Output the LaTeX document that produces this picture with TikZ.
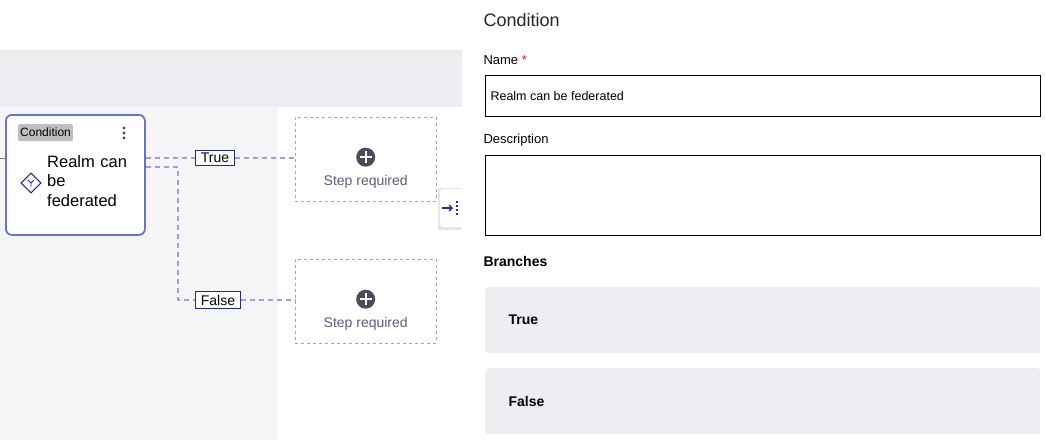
\documentclass[tikz,border=0pt]{standalone}
\usepackage{fontspec}
\setmainfont{Liberation Sans}
\setsansfont{Liberation Sans}
\usetikzlibrary{positioning,calc,arrows.meta}
\definecolor{edgeblue}{HTML}{9C9FD8}
\definecolor{nodeblue}{HTML}{6A74C4}
\definecolor{navy}{HTML}{1F2A8A}
\definecolor{bandgray}{HTML}{EEEEF2}
\definecolor{canvasgray}{HTML}{F5F5F8}
\definecolor{fieldgray}{HTML}{EDEEF1}
\definecolor{textgray}{HTML}{5A5E7A}
\definecolor{darkdot}{HTML}{4A4C5E}
\newcommand{\fs}[1]{\fontsize{#1pt}{\dimexpr#1pt*6/5\relax}\selectfont}
\begin{document}
\begin{tikzpicture}[x=1pt,y=-1pt,font=\sffamily]
\tikzset{
branch/.style  = {draw=edgeblue, line width=1.4pt, dash pattern=on 5pt off 4pt},
label/.style   = {draw=navy, fill=white, inner xsep=5pt, inner ysep=3pt, font=\fs{14}, line width=0.9pt},
stepbox/.style = {draw=edgeblue, dashed, fill=white, minimum width=141pt, minimum height=84pt, anchor=north west},
field/.style   = {draw=black, fill=white, anchor=north west, minimum width=555pt, line width=0.7pt},
branchbox/.style = {fill=fieldgray, rounded corners=3pt, anchor=north west, minimum width=555pt, minimum height=66pt},
}
    % Backgrounds
    \useasboundingbox (0,0) rectangle (1045,440);
    \fill[white] (0,0) rectangle (1045,440);
    \fill[bandgray] (0,50) rectangle (462,107);
    \fill[canvasgray] (0,107) rectangle (278,440);
    \fill[white] (278,107) rectangle (455,440);
    \fill[black!8] (0,50) rectangle (462,53);

    % Condition node
    \node [draw=nodeblue, line width=1.8pt, rounded corners=6pt, fill=white, minimum width=139pt, minimum height=120pt, anchor=north west] (cond) at (5,114) {};
    \node [fill=black!25, rounded corners=1pt, font=\fs{12}, inner xsep=2pt, inner ysep=4pt, anchor=north west] (cond_tag) at (18,124) {Condition};
    \node [align=left, anchor=north west, font=\fs{16.5}, inner sep=0pt, text width=90pt] (cond_name) at (47,155) {Realm can\\be\\federated};
    \node [draw=navy, line width=1pt, rotate=45, minimum size=14pt, inner sep=0pt] (cond_icon) at (31,183) {};
    \draw[navy, line width=0.8pt] ($(cond_icon)+(0,4)$) -- ($(cond_icon)+(0,0)$) -- ($(cond_icon)+(-3,-3)$) ($(cond_icon)$) -- ($(cond_icon)+(3,-3)$);
    \foreach \d in {0,5,10} \fill[darkdot] (124,{128+\d}) circle (1.6pt);
    \coordinate (cond_in) at (0,158);
    \draw[gray,line width=1pt] (cond_in) -- (5,158);

    % Step nodes
    \node [stepbox] (step_true) at (295,117) {};
    \node [stepbox] (step_false) at (295,259) {};
    \foreach \s in {step_true,step_false}{
      \fill[darkdot] ($(\s.center)+(0,-2)$) circle (9.5pt);
      \draw[white,line width=1.8pt] ($(\s.center)+(-6,-2)$) -- ++(12,0) ($(\s.center)+(0,-8)$) -- ++(0,12);
      \node [text=textgray, font=\fs{14}] at ($(\s.center)+(0,23)$) {Step required};
    }

    % Branch edges
    \node [label] (lbl_true) at (215,158) {True};
    \node [label] (lbl_false) at (218,300) {False};
    \draw [branch] (cond.east |- 0,158) -- (lbl_true);
    \draw [branch] (lbl_true) -- (step_true.west |- lbl_true);
    \draw [branch] (cond.east |- 0,167) -- (178,167) -- (178,300) -- (lbl_false);
    \draw [branch] (lbl_false) -- (step_false.west |- lbl_false);

    % Panel toggle
    \fill[black!10] (438,188) rectangle (464,230);
    \node [fill=white, rounded corners=3pt, minimum width=24pt, minimum height=38pt] (toggle) at (452,208) {};
    \draw[navy, line width=1.4pt, -{Straight Barb[length=3pt]}] ($(toggle)+(-10,0)$) -- ($(toggle)+(1,0)$);
    \foreach \d in {-6,-2,2,6} \fill[navy] ($(toggle)+(5,\d)-(1.2,1.2)$) rectangle ++(2.4,2.4);

    % Side panel
    \fill[white] (462,0) rectangle (1045,440);
    \node [anchor=west, font=\fs{18}, text=black!85] (panel_title) at (480,20) {Condition};
    \node [anchor=west, font=\fs{13}] (name_lbl) at (480,60) {Name \textcolor{red}{*}};
    \node [field, minimum height=41pt] (name_field) at (485,75) {};
    \node [anchor=west, font=\fs{12.5}] at ($(name_field.west)+(2,0)$) {Realm can be federated};
    \node [anchor=west, font=\fs{13}] (desc_lbl) at (480,140) {Description};
    \node [field, minimum height=80pt] (desc_field) at (485,155) {};
    \node [anchor=west, font=\fs{14}\bfseries] (branches_lbl) at (480,261) {Branches};
    \node [branchbox] (branch_true) at (485,287) {};
    \node [anchor=west, font=\fs{14}\bfseries] at ($(branch_true.west)+(20,0)$) {True};
    \node [branchbox] (branch_false) at (485,368) {};
    \node [anchor=west, font=\fs{14}\bfseries] at ($(branch_false.west)+(20,0)$) {False};
\end{tikzpicture}
\end{document}
